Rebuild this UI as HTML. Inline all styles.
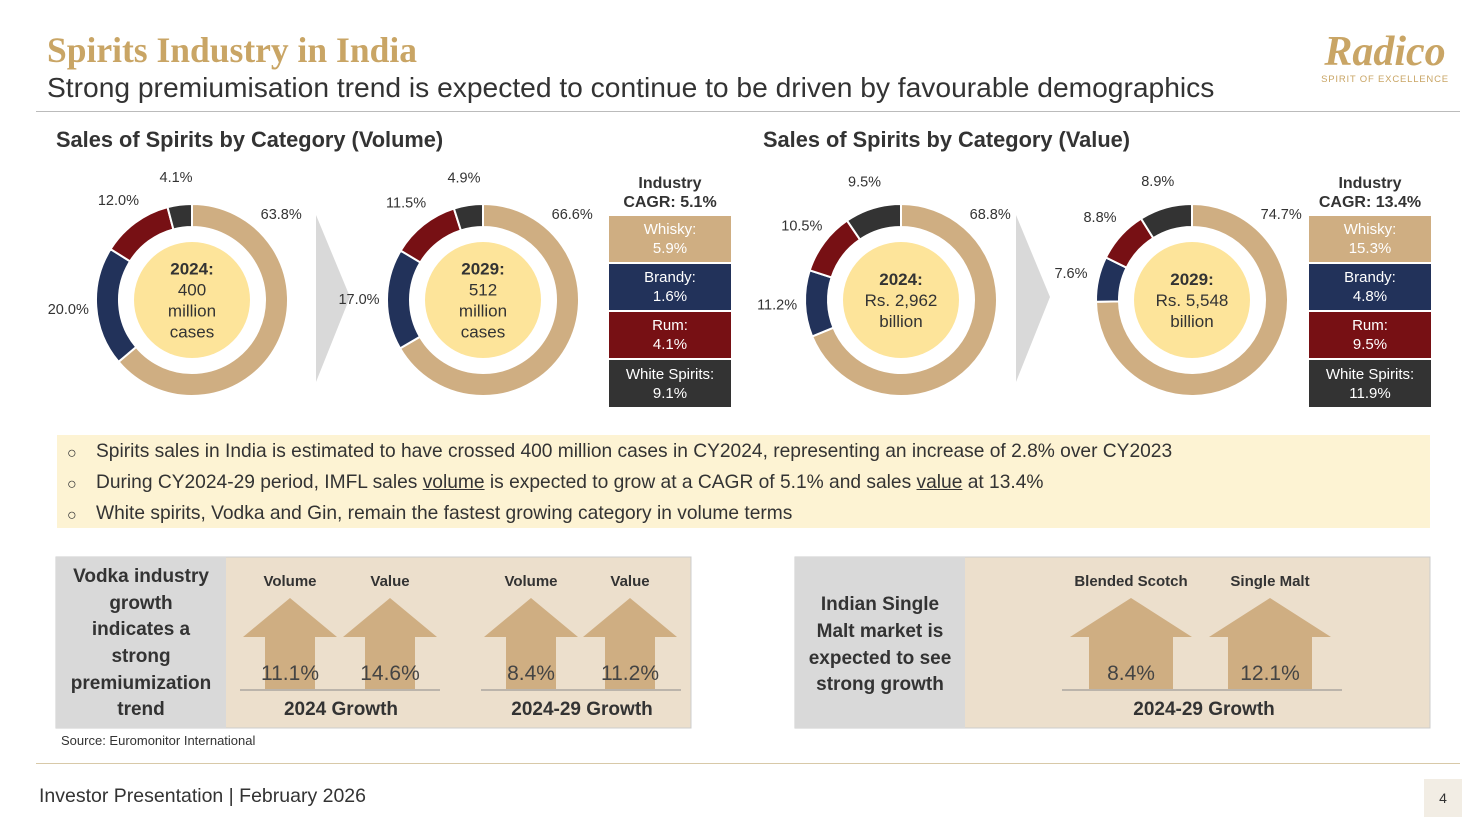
<!DOCTYPE html>
<html><head><meta charset="utf-8">
<style>
body{margin:0;width:1479px;height:826px;background:#fff;font-family:"Liberation Sans","DejaVu Sans",sans-serif;position:relative;overflow:hidden;color:#333}
.a{position:absolute}
.lg div{position:absolute;left:0;width:122px;color:#fff;text-align:center;font-size:15px;line-height:19px;display:flex;align-items:center;justify-content:center}
</style></head><body>
<div class="a" style="left:47px;top:29px;font-family:'Liberation Serif',serif;font-weight:bold;font-size:35.5px;color:#c9a565">Spirits Industry in India</div>
<div class="a" style="left:47px;top:71px;font-size:28.2px;color:#333;white-space:nowrap">Strong premiumisation trend is expected to continue to be driven by favourable demographics</div>
<div class="a" style="left:1310px;top:30px;width:150px;text-align:center;color:#c9a565"><div style="font-family:'Liberation Serif',serif;font-style:italic;font-weight:bold;font-size:42px;line-height:44px">Radico</div><div style="font-size:9.5px;letter-spacing:0.8px;white-space:nowrap">SPIRIT OF EXCELLENCE</div></div>
<div class="a" style="left:36px;top:111px;width:1424px;height:1px;background:#bbb"></div>
<div class="a" style="left:56px;top:127px;font-size:21.8px;font-weight:bold;color:#333">Sales of Spirits by Category (Volume)</div>
<div class="a" style="left:763px;top:127px;font-size:21.8px;font-weight:bold;color:#333">Sales of Spirits by Category (Value)</div>
<svg id="donuts" class="a" style="left:0;top:0" width="1479" height="430">
<polygon points="316,215 350,297 316,382" fill="#d9d9d9"/>
<polygon points="1016,215 1050,297 1016,382" fill="#d9d9d9"/>
</svg>
<div class="a lg" style="left:609px;top:173px;width:122px;height:235px">
<div style="top:0;height:40px;color:#333;font-weight:bold;font-size:16px;line-height:19px">Industry<br>CAGR: 5.1%</div>
<div style="top:43px;height:46px;background:#cfae82">Whisky:<br>5.9%</div>
<div style="top:91px;height:46px;background:#22325a">Brandy:<br>1.6%</div>
<div style="top:139px;height:46px;background:#771014">Rum:<br>4.1%</div>
<div style="top:187px;height:47px;background:#333">White Spirits:<br>9.1%</div>
</div>
<div class="a lg" style="left:1309px;top:173px;width:122px;height:235px">
<div style="top:0;height:40px;color:#333;font-weight:bold;font-size:16px;line-height:19px">Industry<br>CAGR: 13.4%</div>
<div style="top:43px;height:46px;background:#cfae82">Whisky:<br>15.3%</div>
<div style="top:91px;height:46px;background:#22325a">Brandy:<br>4.8%</div>
<div style="top:139px;height:46px;background:#771014">Rum:<br>9.5%</div>
<div style="top:187px;height:47px;background:#333">White Spirits:<br>11.9%</div>
</div>
<div class="a" style="left:57px;top:435px;width:1373px;height:93px;background:#fdf3d3;font-size:19.2px;color:#333">
<div style="position:absolute;left:10px;top:3px;line-height:31px;font-size:16px">○<br>○<br>○</div>
<div style="position:absolute;left:39px;top:1px;line-height:31px;white-space:nowrap">Spirits sales in India is estimated to have crossed 400 million cases in CY2024, representing an increase of 2.8% over CY2023<br>During CY2024-29 period, IMFL sales <u>volume</u> is expected to grow at a CAGR of 5.1% and sales <u>value</u> at 13.4%<br>White spirits, Vodka and Gin, remain the fastest growing category in volume terms</div>
</div>
<svg class="a" style="left:0;top:0" width="1479" height="826" id="boxes">
<rect x="56" y="557" width="635" height="171" fill="#ecdfcc" stroke="#ccc"/>
<rect x="56" y="557" width="170" height="171" fill="#d9d9d9"/>
<rect x="795" y="557" width="635" height="171" fill="#ecdfcc" stroke="#ccc"/>
<rect x="795" y="557" width="170" height="171" fill="#d9d9d9"/>
<line x1="240" y1="690" x2="440" y2="690" stroke="#8a8a8a"/>
<line x1="481" y1="690" x2="681" y2="690" stroke="#8a8a8a"/>
<line x1="1062" y1="690" x2="1342" y2="690" stroke="#8a8a8a"/>
<g font-weight="bold" font-size="15" fill="#333" text-anchor="middle">
<text x="290" y="586">Volume</text><text x="390" y="586">Value</text>
<text x="531" y="586">Volume</text><text x="630" y="586">Value</text>
<text x="1131" y="586">Blended Scotch</text><text x="1270" y="586">Single Malt</text>
</g>
<g font-weight="bold" font-size="19" fill="#333" text-anchor="middle">
<text x="341" y="715">2024 Growth</text><text x="582" y="715">2024-29 Growth</text><text x="1204" y="715">2024-29 Growth</text>
<text x="141" y="582">Vodka industry</text><text x="141" y="609">growth</text><text x="141" y="635">indicates a</text><text x="141" y="662">strong</text><text x="141" y="689">premiumization</text><text x="141" y="715">trend</text>
<text x="880" y="610">Indian Single</text><text x="880" y="637">Malt market is</text><text x="880" y="664">expected to see</text><text x="880" y="690">strong growth</text>
</g>
</svg>
<div class="a" style="left:61px;top:733px;font-size:13px;color:#333">Source: Euromonitor International</div>
<div class="a" style="left:36px;top:763px;width:1424px;height:1px;background:#d8c9a8"></div>
<div class="a" style="left:39px;top:785px;font-size:19.5px;color:#333">Investor Presentation | February 2026</div>
<div class="a" style="left:1424px;top:779px;width:38px;height:38px;background:#f2ede4;font-size:14px;display:flex;align-items:center;justify-content:center">4</div>
<script>
const categories=["Whisky","Brandy","Rum","White Spirits"];
const vol2024=[63.8,20.0,12.0,4.1];
const vol2029=[66.6,17.0,11.5,4.9];
const val2024=[68.8,11.2,10.5,9.5];
const val2029=[74.7,7.6,8.8,8.9];
const centerLabels=[["2024:","400","million","cases"],["2029:","512","million","cases"],["2024:","Rs. 2,962","billion"],["2029:","Rs. 5,548","billion"]];
const arrowLabels=["11.1%","14.6%","8.4%","11.2%","8.4%","12.1%"];
const colors=["#cfae82","#22325a","#771014","#333333"];
const NS="http://www.w3.org/2000/svg";
const svg=document.getElementById('donuts');
function mk(t,a,p){const e=document.createElementNS(NS,t);for(const k in a)e.setAttribute(k,a[k]);(p||svg).appendChild(e);return e;}
function pt(cx,cy,r,a){const t=a*Math.PI/180;return [cx+r*Math.sin(t),cy-r*Math.cos(t)];}
function donut(cx,cy,vals,center){
  const tot=vals.reduce((a,b)=>a+b,0);let a0=0;const R=96,r=73;
  vals.forEach((v,i)=>{
    const a1=a0+v/tot*360;const big=a1-a0>180?1:0;
    const p1=pt(cx,cy,R,a0),p2=pt(cx,cy,R,a1),p3=pt(cx,cy,r,a1),p4=pt(cx,cy,r,a0);
    const p=mk('path',{d:`M${p1}A${R},${R} 0 ${big} 1 ${p2}L${p3}A${r},${r} 0 ${big} 0 ${p4}Z`,fill:colors[i],stroke:'#fff','stroke-width':2});
    
    
    const mid=v/tot>0.5?46:(a0+a1)/2;const lp=pt(cx,cy,124,mid);
    const t=mk('text',{x:lp[0],y:lp[1]+5,'text-anchor':'middle','font-size':14.5,fill:'#333'});t.textContent=v.toFixed(1)+'%';
    
    
    a0=a1;
  });
  const c=mk('circle',{cx:cx,cy:cy,r:58,fill:'#fde49a'});
  
  
  const n=center.length,y0=cy-(n-1)*10.5+6;
  center.forEach((s,j)=>{const t=mk('text',{x:cx,y:y0+j*21,'text-anchor':'middle','font-size':17,fill:'#333','font-weight':j==0?'bold':'normal'});t.textContent=s;});
}
donut(192,300,vol2024,centerLabels[0]);
donut(483,300,vol2029,centerLabels[1]);
donut(901,300,val2024,centerLabels[2]);
donut(1192,300,val2029,centerLabels[3]);
const bx=document.getElementById('boxes');
const arrowX=[290,390,531,630,1131,1270];
arrowLabels.forEach((s,i)=>{
  const cx=arrowX[i];const wide=i>=4;const hw=wide?61:47,sw=wide?42:25;
  const p=mk('polygon',{points:`${cx},598 ${cx+hw},637 ${cx+sw},637 ${cx+sw},689 ${cx-sw},689 ${cx-sw},637 ${cx-hw},637`,fill:'#cfae82'},bx);
  
  
  const t=mk('text',{x:cx,y:680,'text-anchor':'middle','font-size':21,fill:'#444'},bx);t.textContent=s;
});
</script>
</body></html>
